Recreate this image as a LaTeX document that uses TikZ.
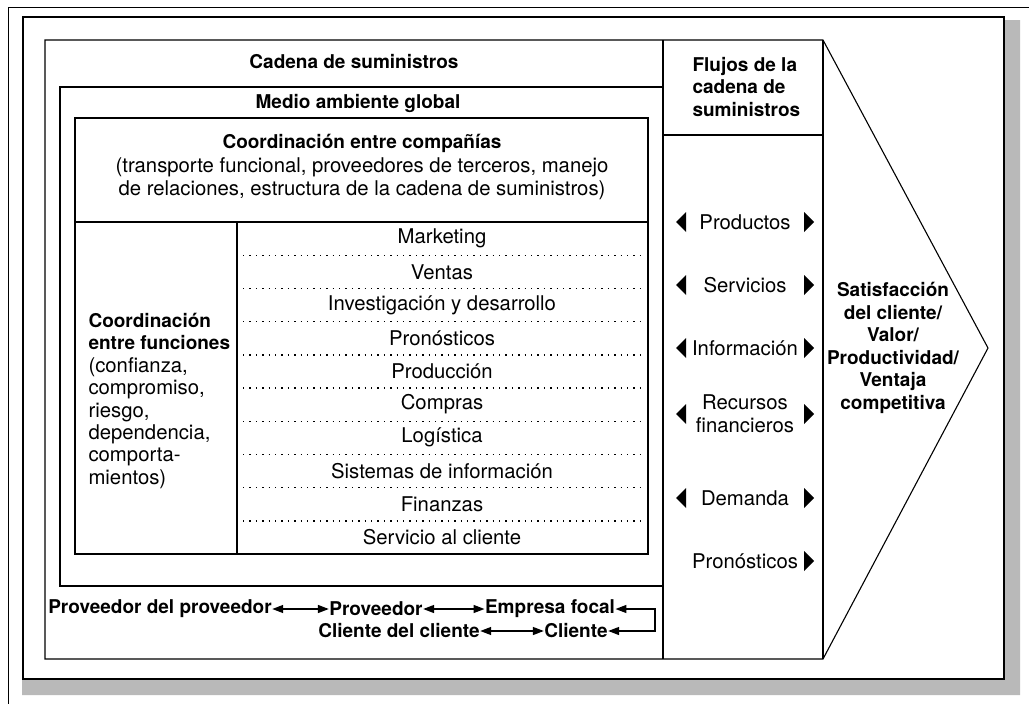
\documentclass[tikz,border=0pt]{standalone}
\usepackage{fontspec}
\setmainfont{TeX Gyre Heros}
\usetikzlibrary{arrows.meta}
\newcommand{\txt}{\fontsize{20.3}{23}\selectfont}
\newcommand{\txtb}{\fontsize{19}{22.6}\selectfont\bfseries}

\begin{document}
\begin{tikzpicture}[x=1pt,y=-1pt,line width=1.1pt,
		every node/.style={font=\txt,inner sep=0pt},
		hd/.style={font=\txtb},
		link/.style={{Triangle[length=11pt,width=8pt]}-{Triangle[length=11pt,width=8pt]},line width=1.4pt},
		dots/.style={line width=1.4pt,dash pattern=on 1.4pt off 5pt}]
		\useasboundingbox (0,0) rectangle (1029,704);
		\fill[gray!55] (1004,20) rectangle (1020,695) (22,679) rectangle (1020,695);
		\draw[line width=0.8pt] (8,704) |- (1029,7);
		\draw[line width=1.8pt] (23,17) rectangle (1004,679);
		\draw (45,40) -- (823,40) -- (988,348) -- (823,659) -- (45,659) -- cycle;
		\draw (663,40) -- (663,659) (823,40) -- (823,659) (663,135) -- (823,135);
		\draw (60,87) rectangle (663,586);
		\draw (75,118) rectangle (648,554) (75,222) -- (648,222) (237,222) -- (237,554);
		\foreach \i in {1,...,9} \draw[dots] (243,222+33.2*\i) -- (643,222+33.2*\i);
		
		\node[hd] (cadena) at (354,62) {Cadena de suministros};
		\node[hd,align=left,anchor=west] (flujos) at (692,87) {Flujos de la\\cadena de\\suministros};
		\node[hd] (medio) at (358,103) {Medio ambiente global};
		\node[hd] (comp) at (362,143) {Coordinación entre compañías};
		\node[align=center] (compt) at (362,179) {(transporte funcional, proveedores de terceros, manejo\\de relaciones, estructura de la cadena de suministros)};
		\foreach \f [count=\i] in {Marketing,Ventas,Investigación y desarrollo,Pronósticos,Producción,Compras,Logística,Sistemas de información,Finanzas,Servicio al cliente}
		\node (fun\i) at (442,222+33.2*\i-16.6) {\f};
		\node[align=left,anchor=west,font=\fontsize{20.3}{22.4}\selectfont] (func) at (88,401) {{\txtb Coordinación}\\{\txtb entre funciones}\\(confianza,\\compromiso,\\riesgo,\\dependencia,\\comporta-\\mientos)};
		
		\foreach \t/\y [count=\i] in {Productos/222,Servicios/285,Información/348,{Recursos\\financieros}/414,Demanda/498,Pronósticos/561}
		\node[align=center] (flujo\i) at (745,\y) {\t};
		\foreach \y in {222,285,348,414,498} \fill (676,\y) -- ++(10,-10) -- ++(0,20) -- cycle;
		\foreach \y in {222,285,348,414,498,561} \fill (814,\y) -- ++(-10,-10) -- ++(0,20) -- cycle;
		\node[hd,align=center] (satis) at (893,348) {Satisfacción\\del cliente/\\Valor/\\Productividad/\\Ventaja\\competitiva};
		
		\node[hd] (pp) at (160,609) {Proveedor del proveedor};
		\node[hd] (prov) at (376,609) {Proveedor};
		\node[hd] (focal) at (550,609) {Empresa focal};
		\node[hd] (cc) at (399,631) {Cliente del cliente};
		\node[hd] (cli) at (576,631) {Cliente};
		\coordinate (br) at (655,620);
		\draw[link] (pp) -- (prov);
		\draw[link] (prov) -- (focal);
		\draw[link] (cc) -- (cli);
		\draw[link] (focal.east) -- (focal.east -| br) -- (cli.east -| br) -- (cli.east);
		
		\end{tikzpicture}
\end{document}
